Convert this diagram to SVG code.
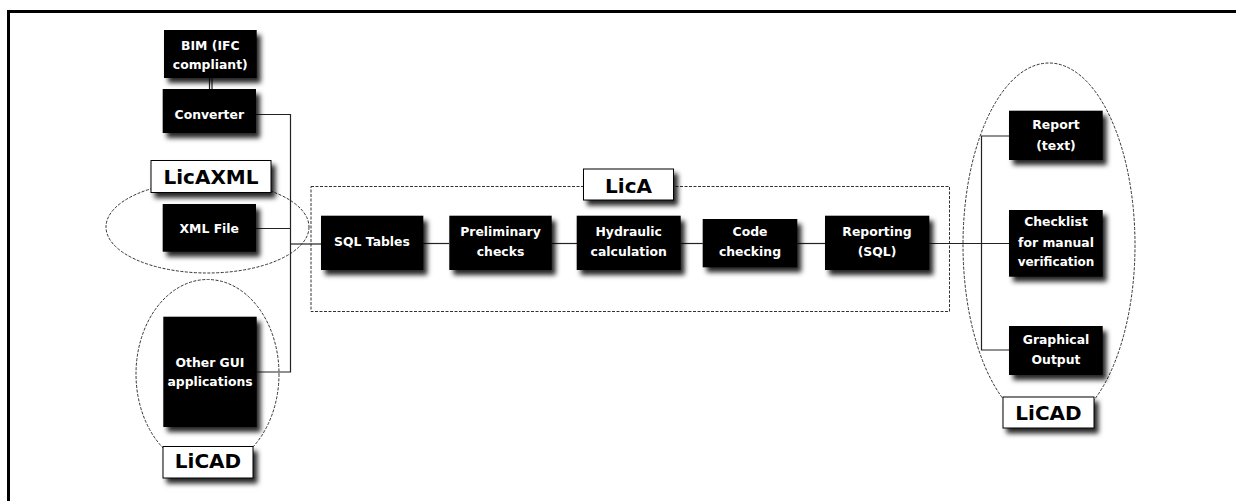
<svg xmlns="http://www.w3.org/2000/svg" width="1236" height="501" viewBox="0 0 1236 501">
<defs>
<filter id="sh" x="-20%" y="-20%" width="150%" height="160%">
<feDropShadow dx="4" dy="5" stdDeviation="2.5" flood-color="#000" flood-opacity="0.85"/>
</filter>
<style>
.box{fill:#000;filter:url(#sh)}
.bt{fill:#fff;font-family:"DejaVu Sans",sans-serif;font-weight:bold;font-size:12.4px;text-anchor:middle}
.lab{fill:#fff;stroke:#000;stroke-width:1;filter:url(#sh)}
.lt{fill:#000;font-family:"DejaVu Sans",sans-serif;font-weight:bold;font-size:20px;text-anchor:middle}
.dash{fill:none;stroke:#333;stroke-width:1;stroke-dasharray:3 1.5}
.con{fill:none;stroke:#222;stroke-width:1.2}
</style>
</defs>
<rect width="1236" height="501" fill="#fff"/>
<path d="M8.5 501 V11.5 H1236" fill="none" stroke="#000" stroke-width="3"/>

<g id="groups">
<ellipse class="dash" cx="207.5" cy="227" rx="101.5" ry="46"/>
<ellipse class="dash" cx="207.5" cy="374" rx="71.5" ry="94.5"/>
<ellipse class="dash" cx="1049" cy="245" rx="86" ry="182"/>
<rect class="dash" x="311" y="186.5" width="638.5" height="125"/>
</g>

<g id="connectors">
<line class="con" x1="209.5" y1="78" x2="209.5" y2="89"/>
<line class="con" x1="212" y1="78" x2="212" y2="89"/>
<path class="con" d="M256 114.5 H290.5 V372 H256.7"/>
<path class="con" d="M256 228.5 H290.5"/>
<path class="con" d="M290.5 244 H321"/>
<path class="con" d="M423 243.5 H449"/>
<path class="con" d="M551.7 243.5 H577"/>
<path class="con" d="M680.7 243.5 H702.7"/>
<path class="con" d="M797.3 243.5 H825"/>
<path class="con" d="M929.3 243.5 H1009"/>
<path class="con" d="M1009 136 H981.5 V350 H1009"/>
</g>

<g id="bim"><rect class="box" x="164" y="30" width="92.7" height="48"/>
<text class="bt" x="210.3" y="49.5">BIM (IFC</text><text class="bt" x="210.3" y="68.5">compliant)</text></g>
<g id="converter"><rect class="box" x="162.7" y="89" width="93.3" height="44"/>
<text class="bt" x="209.3" y="119">Converter</text></g>
<g id="xmlfile"><rect class="box" x="162.7" y="204" width="93.3" height="47.7"/>
<text class="bt" x="209.3" y="232.5">XML File</text></g>
<g id="othergui"><rect class="box" x="163.3" y="316.7" width="93.4" height="110.3"/>
<text class="bt" x="210" y="367">Other GUI</text><text class="bt" x="210" y="386">applications</text></g>

<g id="sqltables"><rect class="box" x="321" y="215.7" width="102.3" height="54.3"/>
<text class="bt" x="372" y="246">SQL Tables</text></g>
<g id="prelim"><rect class="box" x="449.3" y="215.7" width="102.4" height="54.3"/>
<text class="bt" x="500.5" y="236">Preliminary</text><text class="bt" x="500.5" y="256">checks</text></g>
<g id="hydraulic"><rect class="box" x="576.7" y="215.7" width="104" height="54.3"/>
<text class="bt" x="628.7" y="236">Hydraulic</text><text class="bt" x="628.7" y="256">calculation</text></g>
<g id="code"><rect class="box" x="702.7" y="219" width="94.6" height="48.3"/>
<text class="bt" x="750" y="236">Code</text><text class="bt" x="750" y="256">checking</text></g>
<g id="reporting"><rect class="box" x="825" y="215.7" width="104.3" height="54.3"/>
<text class="bt" x="877" y="236">Reporting</text><text class="bt" x="877" y="256">(SQL)</text></g>

<g id="report"><rect class="box" x="1009" y="110.7" width="93.7" height="49.3"/>
<text class="bt" x="1056" y="129">Report</text><text class="bt" x="1056" y="149.5">(text)</text></g>
<g id="checklist"><rect class="box" x="1009" y="210" width="93.7" height="66.7"/>
<text class="bt" x="1056" y="226">Checklist</text><text class="bt" x="1056" y="246.5">for manual</text><text class="bt" x="1056" y="266" style="font-size:12px">verification</text></g>
<g id="graphical"><rect class="box" x="1009" y="326" width="93.7" height="49"/>
<text class="bt" x="1056" y="344">Graphical</text><text class="bt" x="1056" y="364">Output</text></g>

<g id="label-licaxml"><rect class="lab" x="151" y="160.5" width="120" height="32"/>
<text class="lt" x="211" y="184">LicAXML</text></g>
<g id="label-lica"><rect class="lab" x="583.5" y="169" width="90" height="31"/>
<text class="lt" x="628.5" y="192.5">LicA</text></g>
<g id="label-licad-left"><rect class="lab" x="163" y="446.5" width="90" height="31.5"/>
<text class="lt" x="208" y="468">LiCAD</text></g>
<g id="label-licad-right"><rect class="lab" x="1003" y="397" width="91" height="31"/>
<text class="lt" x="1048.5" y="420">LiCAD</text></g>
</svg>
